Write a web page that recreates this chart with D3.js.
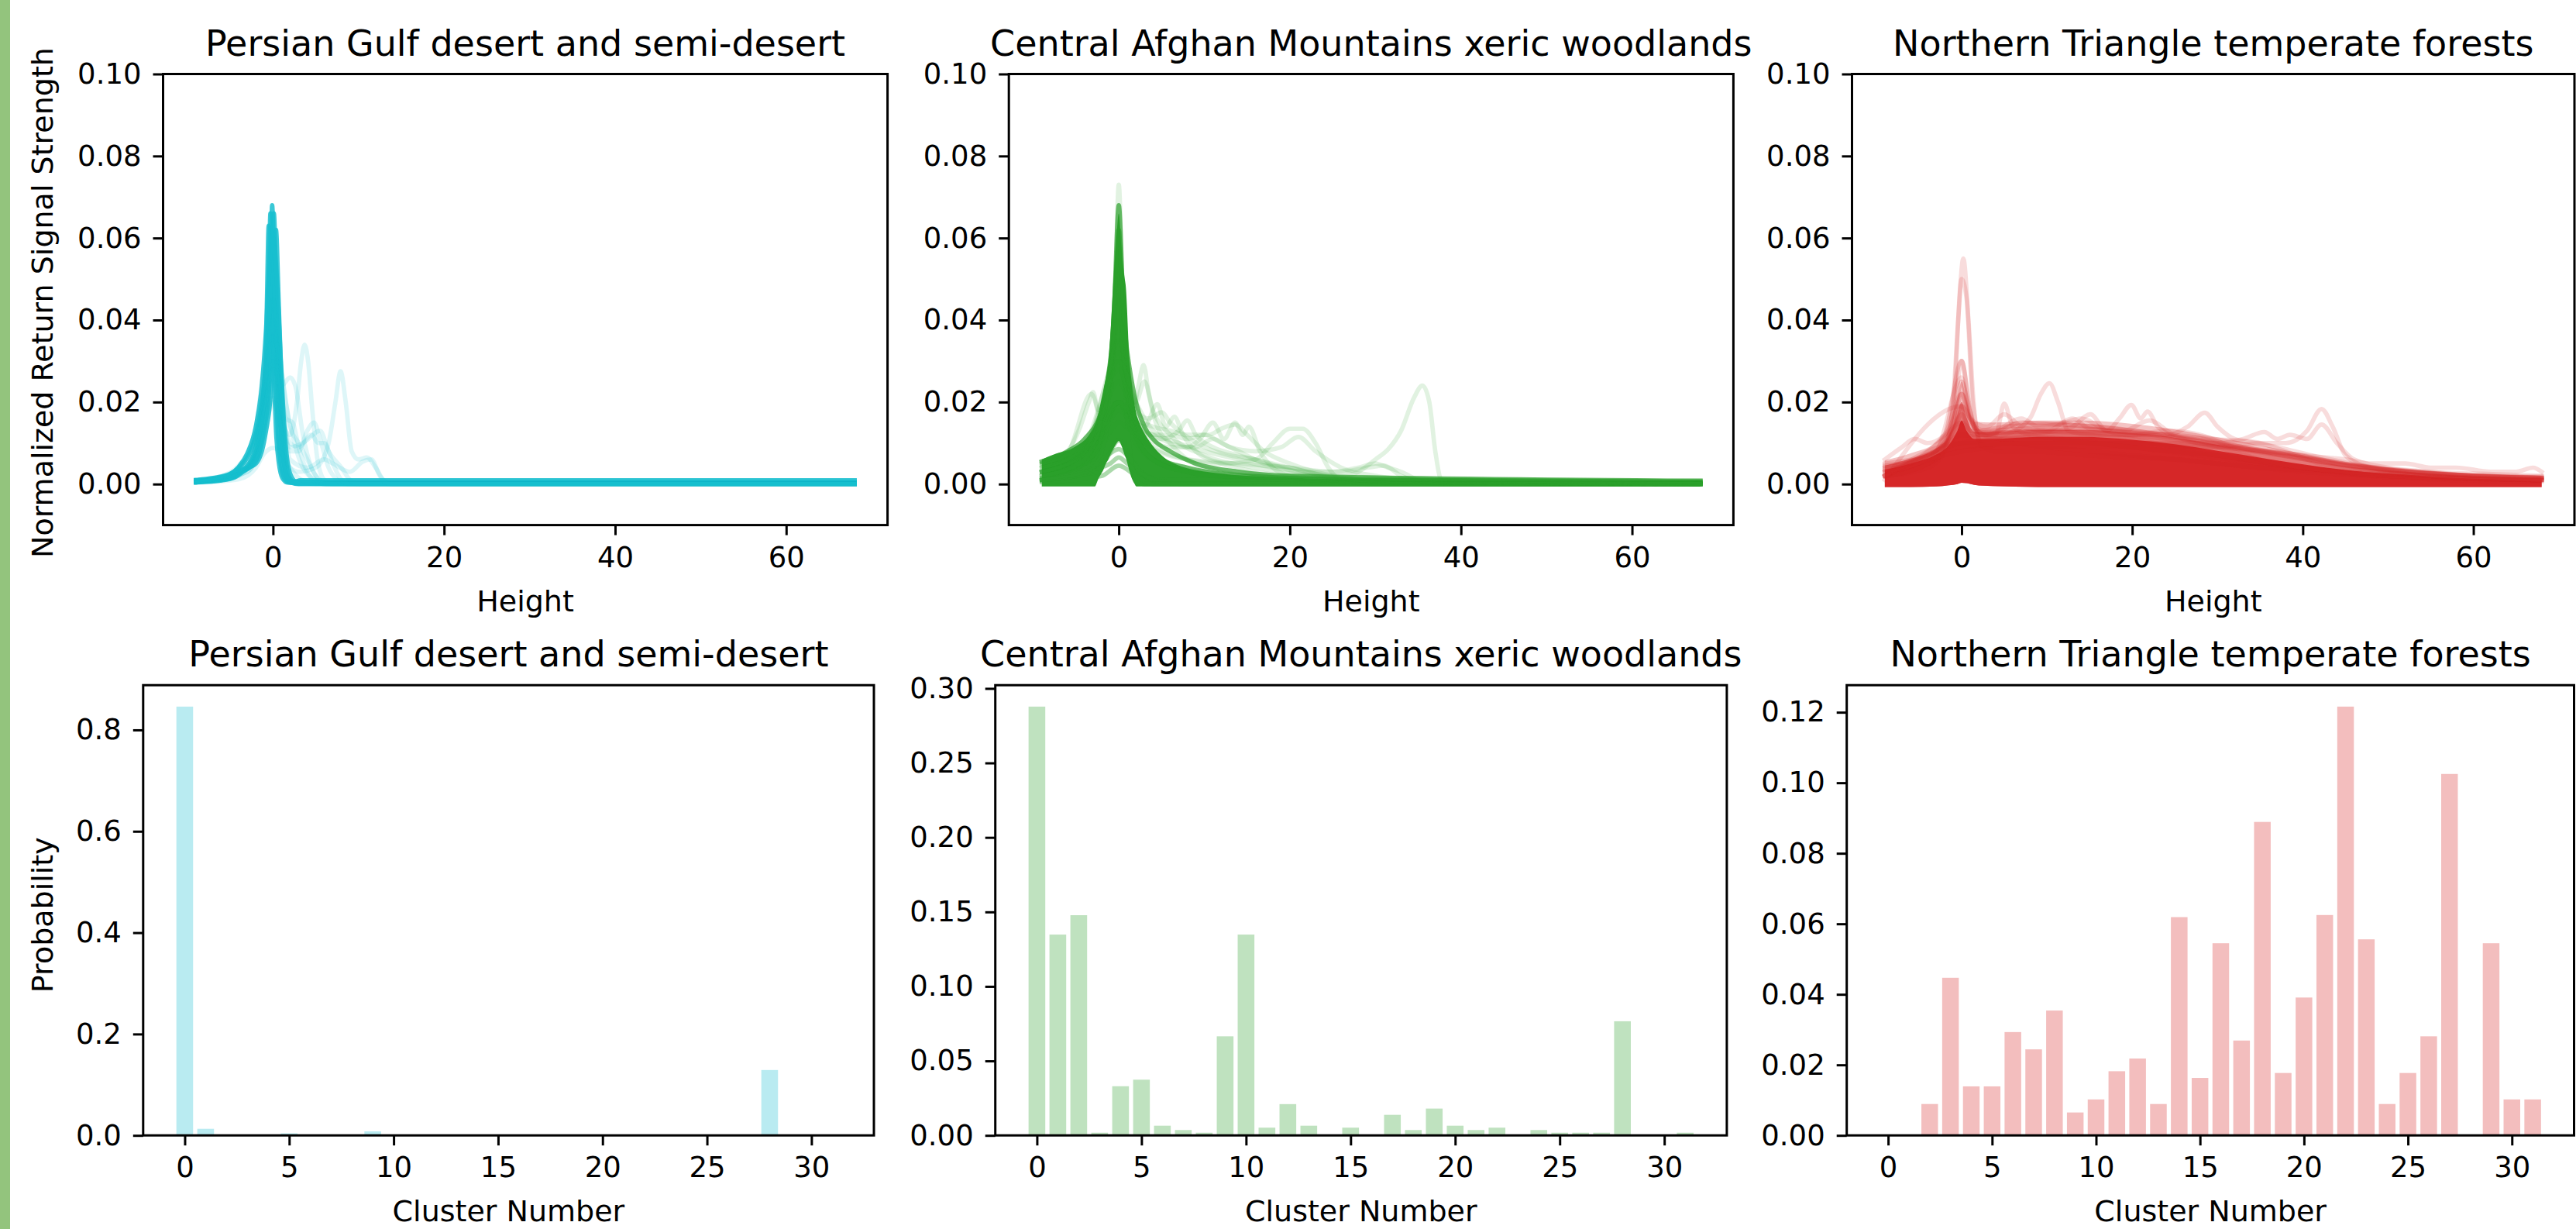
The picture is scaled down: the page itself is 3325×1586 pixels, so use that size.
<!DOCTYPE html>
<html><head><meta charset="utf-8">
<script src="https://cdn.jsdelivr.net/npm/d3@7"></script>
<style>
html,body{margin:0;padding:0;background:#fff;}
svg{display:block;}
</style></head><body>
<svg id="chart" width="3325" height="1586"></svg>
<script>
// ---------------- DATA ----------------
const regions = ["Persian Gulf desert and semi-desert","Central Afghan Mountains xeric woodlands","Northern Triangle temperate forests"];
const clusters = [0,1,2,3,4,5,6,7,8,9,10,11,12,13,14,15,16,17,18,19,20,21,22,23,24,25,26,27,28,29,30,31];
const heightTicks = [0,20,40,60];
const signalTicks = [0,0.02,0.04,0.06,0.08,0.10];
const clusterTicks = [0,5,10,15,20,25,30];
const probTicksPersian = [0,0.2,0.4,0.6,0.8];
const probTicksAfghan = [0,0.05,0.10,0.15,0.20,0.25,0.30];
const probTicksTriangle = [0,0.02,0.04,0.06,0.08,0.10,0.12];

const probPersian = [0.846,0.013,0,0,0,0.004,0,0,0,0.008,0,0,0,0,0,0,0,0,0,0,0,0,0,0,0,0,0,0,0.129,0,0,0];
const probAfghan = [0.2878,0.1348,0.1478,0.0018,0.033,0.0374,0.0065,0.0036,0.0018,0.0665,0.1348,0.0052,0.021,0.0065,0,0.0052,0,0.0138,0.0036,0.018,0.0065,0.0036,0.0052,0,0.0036,0.0018,0.0018,0.0018,0.0766,0,0,0.0018];
const probTriangle = [0,0,0.0089,0.0447,0.0139,0.0139,0.0293,0.0244,0.0354,0.0065,0.0102,0.0182,0.0218,0.0089,0.0619,0.0163,0.0545,0.0269,0.0889,0.0177,0.0391,0.0625,0.1216,0.0556,0.0089,0.0177,0.0281,0.1025,0,0.0545,0.0102,0.0102];

// waveforms: [height, normalized signal] pairs
const persianCore = [
 [[-9,0.0007],[-7,0.001],[-5,0.0018],[-4,0.003],[-2.8,0.005],[-1.8,0.0114],[-0.85,0.03],[-0.7,0.045],[-0.5,0.063],[-0.2,0.045],[0.05,0.03],[0.4,0.0114],[0.7,0.005],[1.1,0.0015],[1.7,0.0004],[3,0.0003],[68,0.0003]],
 [[-9,0.0005],[-7,0.0008],[-5,0.0015],[-4,0.0026],[-2.6,0.005],[-1.6,0.0114],[-0.65,0.03],[-0.5,0.045],[-0.3,0.066],[0,0.045],[0.25,0.03],[0.6,0.0114],[0.9,0.005],[1.3,0.0015],[1.9,0.0004],[3,0.0002],[68,0.0002]],
 [[-9,0.0004],[-6,0.0009],[-4.5,0.0016],[-3.5,0.003],[-2.4,0.005],[-1.4,0.0114],[-0.45,0.03],[-0.3,0.045],[-0.1,0.068],[0.2,0.045],[0.45,0.03],[0.8,0.0114],[1.1,0.005],[1.5,0.0015],[2.1,0.0004],[3,0],[68,0]],
 [[-9,0.0006],[-6,0.001],[-4.5,0.0018],[-3.5,0.0032],[-2.2,0.005],[-1.2,0.0114],[-0.25,0.03],[-0.1,0.045],[0.1,0.066],[0.4,0.045],[0.65,0.03],[1.0,0.0114],[1.3,0.005],[1.7,0.0015],[2.3,0.0004],[3,0.0001],[68,0.0001]],
 [[-9,0.0008],[-6,0.0012],[-4.5,0.002],[-3.5,0.0035],[-2,0.005],[-0.95,0.0114],[0,0.03],[0.15,0.045],[0.35,0.062],[0.65,0.045],[0.9,0.03],[1.25,0.0114],[1.55,0.005],[1.95,0.0015],[2.5,0.0005],[3.2,0.0009],[68,0.0009]],
 [[-9,0.001],[-7,0.0015],[-5,0.0025],[-4,0.004],[-3,0.0065],[-2,0.012],[-1,0.025],[-0.5,0.04],[0,0.058],[0.4,0.04],[0.75,0.022],[1.1,0.009],[1.5,0.003],[2,0.0008],[3,0.0006],[68,0.0006]],
 [[-9,0.0009],[-7,0.0013],[-5,0.0024],[-4,0.0042],[-3,0.0075],[-2,0.014],[-1.3,0.024],[-0.8,0.038],[-0.4,0.054],[0,0.06],[0.4,0.052],[0.8,0.035],[1.2,0.018],[1.6,0.007],[2.1,0.002],[2.8,0.0005],[68,0.0005]]
];
const persianFaint = [
 [[-9,0.0005],[-4,0.002],[-2,0.008],[-1,0.015],[0,0.021],[1,0.015],[2,0.012],[2.8,0.02],[3.3,0.03],[3.7,0.034],[4.1,0.03],[4.6,0.018],[5.2,0.006],[6,0.001],[7,0],[68,0]],
 [[-9,0.0005],[-3,0.003],[-1,0.013],[0,0.025],[1,0.013],[2,0.004],[3,0.003],[5,0.004],[6.5,0.01],[7.3,0.02],[7.9,0.0275],[8.5,0.02],[9.2,0.008],[10,0.006],[11,0.0065],[12,0.004],[13,0.0008],[14,0],[68,0]],
 [[-9,0.0003],[-4,0.0012],[-2,0.004],[-1,0.0075],[0,0.0088],[1,0.0075],[2,0.004],[3,0.0015],[4,0.0004],[5,0],[68,0]],
 [[-9,0.0006],[-4,0.003],[-2,0.01],[-1,0.02],[0,0.03],[1,0.024],[2,0.026],[2.6,0.024],[3.5,0.012],[4.5,0.004],[5.5,0.001],[6.5,0],[68,0]],
 [[-9,0.0004],[-3,0.004],[-1,0.02],[0,0.035],[1,0.02],[2,0.008],[3,0.008],[4,0.013],[4.8,0.015],[5.5,0.011],[6.5,0.004],[7.5,0.001],[8.5,0],[68,0]],
 [[-9,0.0004],[-3,0.0045],[-1,0.022],[0,0.031],[1,0.018],[2,0.01],[3,0.009],[4.5,0.012],[5.3,0.01],[6,0.01],[7,0.005],[8,0.001],[9,0],[68,0]],
 [[-9,0.0008],[-6,0.0018],[-4,0.004],[-2,0.014],[-1,0.03],[0,0.045],[1,0.028],[2,0.014],[3,0.01],[4,0.006],[5,0.002],[6,0],[68,0]],
 [[-9,0.0005],[-3,0.003],[-1,0.012],[0,0.02],[1,0.014],[2,0.009],[3.5,0.01],[5.5,0.013],[6.5,0.008],[8,0.004],[9,0.001],[10,0],[68,0]],
 [[-9,0.0007],[-6,0.0015],[-4,0.003],[-2,0.009],[-1,0.018],[0,0.028],[0.8,0.024],[1.5,0.016],[2.3,0.015],[3,0.009],[4,0.003],[5,0.0005],[6,0],[68,0]],
 [[-9,0.0004],[-3,0.005],[-1,0.025],[0,0.04],[1,0.022],[2,0.006],[4,0.004],[6,0.006],[7,0.005],[9,0.003],[10.5,0.0055],[11.5,0.006],[12.5,0.002],[13.5,0],[68,0]],
 [[-9,0.0009],[-6,0.002],[-4,0.0045],[-2.5,0.01],[-1,0.024],[0,0.036],[0.8,0.03],[1.5,0.02],[2.5,0.01],[3.5,0.004],[5,0.001],[6,0],[68,0]]
];

const afghanEnvH =     [-9,     -7.6,   -5.2,   -3.4,   -2.8,   -2.4,  -2.2,  -1.8,  -1.5,  -1.23, -0.8,  -0.66, -0.3,  0,     0.3,   0.7,   0.8,   1.27,  1.5,   1.8,   2.06,  2.4,   3.5,   4.9,   6.9,   11.4,  18.6,  25,    35,    50,    68];
const afghanEnvUpper = [0.006,  0.0072, 0.009,  0.0122, 0.0145, 0.0171,0.019, 0.023, 0.026, 0.0297,0.043, 0.0486,0.059, 0.066, 0.058, 0.05,  0.0486,0.0297,0.025, 0.02,  0.0171,0.015, 0.0107,0.0072,0.0046,0.0027,0.0017,0.0012,0.001, 0.0009,0.0009];
const afghanEnvLower = [-0.0006,-0.0006,-0.0006,-0.0006,-0.0006,0.0012,0.002, 0.0035,0.005, 0.006, 0.008, 0.0085,0.0098,0.0105,0.0095,0.007, 0.0065,0.003, 0.0015,0.0002,-0.0006,-0.0006,-0.0006,-0.0006,-0.0006,-0.0006,-0.0006,-0.0006,-0.0006,-0.0006,-0.0006];
const afghanCore = [
 [[-9,0.003],[-5,0.006],[-3,0.01],[-2,0.015],[-1,0.027],[-0.5,0.045],[0,0.068],[0.5,0.045],[1,0.028],[2,0.015],[3,0.01],[5,0.006],[8,0.004],[12,0.0025],[20,0.0015],[30,0.001],[68,0.0006]],
 [[-9,0.001],[-5,0.002],[-3,0.004],[-2,0.008],[-1,0.02],[-0.5,0.04],[0,0.062],[0.5,0.035],[1,0.015],[1.5,0.005],[2.2,0.001],[3,0],[68,0]],
 [[-9,0.0055],[-6,0.008],[-4,0.011],[-2,0.018],[-1,0.03],[0,0.05],[1,0.032],[2,0.02],[3,0.014],[4,0.011],[6,0.008],[9,0.005],[14,0.003],[20,0.002],[68,0.0008]]
];
const afghanInner = [
 [[-9,0.001],[-3,0.003],[-1.5,0.006],[0,0.0107],[1.5,0.006],[3,0.002],[5,0.0005],[8,0],[68,0]],
 [[-9,0.0015],[-3,0.0035],[-1,0.005],[0,0.0065],[1,0.005],[3,0.002],[6,0.0005],[68,0]],
 [[-9,0.0005],[-2,0.002],[0,0.0045],[2,0.002],[4,0],[68,0]],
 [[-9,0.001],[-3,0.004],[-1,0.0075],[0,0.0085],[1,0.007],[2.5,0.003],[5,0.001],[68,0.0002]]
];
const afghanFaint = [
 [[-9,0.003],[-5,0.006],[-2,0.012],[0,0.02],[2,0.01],[5,0.005],[10,0.003],[20,0.002],[26,0.002],[28,0.003],[30,0.006],[31.5,0.0085],[33,0.013],[34.5,0.021],[35.5,0.024],[36.3,0.02],[37,0.008],[37.7,0.001],[39,0],[68,0]],
 [[-9,0.002],[-4,0.005],[-2,0.012],[-1,0.025],[-0.4,0.05],[0,0.073],[0.4,0.05],[1,0.025],[2,0.012],[4,0.006],[8,0.003],[15,0.0015],[68,0.0008]],
 [[-9,0.004],[-4,0.008],[-2,0.013],[0,0.02],[1.5,0.016],[2.3,0.024],[2.9,0.029],[3.5,0.022],[4.5,0.014],[6,0.01],[8,0.006],[12,0.003],[20,0.001],[68,0.0005]],
 [[-9,0.005],[-6,0.008],[-4.5,0.014],[-3.5,0.02],[-3,0.0224],[-2.4,0.018],[-1.5,0.02],[-0.5,0.035],[0,0.045],[0.6,0.03],[1.5,0.015],[3,0.008],[6,0.004],[12,0.002],[68,0.0005]],
 [[-9,0.002],[-3,0.006],[0,0.015],[2,0.012],[5,0.008],[8,0.006],[12,0.005],[16,0.006],[18,0.01],[20,0.0135],[21.5,0.0135],[23,0.01],[24.5,0.004],[26,0.001],[30,0],[68,0]],
 [[-9,0.003],[-3,0.008],[0,0.02],[2,0.014],[4,0.012],[6,0.01],[8,0.009],[9.5,0.011],[11,0.015],[12.3,0.011],[13.6,0.015],[14.5,0.012],[15.2,0.014],[16.5,0.008],[18,0.004],[20,0.002],[25,0.0005],[68,0]],
 [[-9,0.004],[-3,0.01],[0,0.03],[1.5,0.016],[3,0.014],[4.5,0.0195],[5.5,0.014],[6.5,0.0164],[7.5,0.012],[9,0.008],[12,0.005],[16,0.003],[22,0.0015],[30,0.0005],[68,0]],
 [[-9,0.005],[-3,0.012],[0,0.025],[2,0.016],[4,0.012],[6,0.012],[8,0.011],[10,0.012],[12,0.01],[14,0.008],[17,0.005],[20,0.004],[24,0.002],[28,0.001],[32,0.0005],[68,0]],
 [[-9,0.002],[-3,0.007],[0,0.018],[3,0.01],[8,0.006],[14,0.005],[20,0.004],[25,0.003],[28,0.004],[30,0.005],[31.5,0.004],[33,0.003],[35,0.001],[38,0],[68,0]],
 [[-9,0.003],[-3,0.009],[0,0.035],[2,0.015],[5,0.011],[7,0.013],[8,0.0155],[9,0.012],[11,0.009],[14,0.007],[18,0.005],[22,0.003],[26,0.0015],[68,0.0003]],
 [[-9,0.0045],[-6,0.0075],[-3.2,0.022],[-2,0.016],[0,0.04],[2,0.02],[3,0.025],[4,0.018],[6,0.012],[10,0.007],[16,0.004],[24,0.002],[68,0.0004]],
 [[-9,0.004],[-4,0.009],[0,0.028],[2,0.016],[4,0.014],[6,0.013],[8,0.012],[10.5,0.012],[12,0.0135],[13.6,0.0145],[15,0.012],[17,0.008],[20,0.005],[25,0.002],[30,0.0008],[68,0.0002]],
 [[-9,0.003],[-4,0.008],[0,0.032],[2,0.018],[3.5,0.016],[5,0.0175],[6,0.015],[8,0.0115],[10,0.009],[13,0.007],[16,0.006],[19,0.004],[23,0.002],[28,0.001],[68,0]],
 [[-9,0.002],[-4,0.006],[0,0.02],[3,0.012],[6,0.009],[9,0.009],[11,0.011],[13,0.009],[16,0.008],[19,0.009],[21,0.0115],[23,0.008],[26,0.004],[30,0.002],[35,0.001],[68,0]],
 [[-9,0.005],[-4,0.01],[0,0.03],[2,0.02],[4,0.013],[7,0.01],[10,0.008],[14,0.006],[18,0.004],[22,0.003],[26,0.003],[29,0.004],[31,0.0045],[33,0.002],[36,0.0005],[68,0]]
];

const triangleEnvH =      [-9,     -6,     -3,     -1.5,   -0.5,   0,      0.6,    1.5,    3.6,    9,      14,     20,     25,     30,     36,     41,     46,     52,     57,     62,     68];
const triangleEnvUpper =  [0.0035, 0.005,  0.0072, 0.0095, 0.013,  0.0155, 0.013,  0.011,  0.011,  0.0115, 0.0115, 0.0108, 0.0097, 0.0081, 0.0061, 0.0045, 0.0032, 0.0023, 0.0016, 0.0012, 0.0009];
const triangleDenseUpper =[0.0045, 0.0062, 0.0086, 0.0118, 0.017,  0.02,   0.016,  0.0128, 0.0127, 0.0132, 0.0132, 0.0125, 0.0113, 0.0096, 0.0074, 0.0056, 0.0041, 0.003,  0.0022, 0.0017, 0.0014];
const triangleHaloUpper = [0.0058, 0.0075, 0.0102, 0.0145, 0.021,  0.025,  0.02,   0.0152, 0.015,  0.0155, 0.0155, 0.0147, 0.0133, 0.0114, 0.009,  0.007,  0.0052, 0.0038, 0.0029, 0.0024, 0.002];
const triangleEnvLower =  [-0.0007,-0.0007,-0.0006,-0.0003,0,      0.0003, 0.0002, -0.0002,-0.0005,-0.0007,-0.0007,-0.0007,-0.0007,-0.0007,-0.0007,-0.0007,-0.0007,-0.0007,-0.0007,-0.0007,-0.0007];
const triangleMid = [
 [[-9,0.004],[-5,0.006],[-2,0.01],[-1,0.015],[0,0.025],[0.7,0.02],[1.5,0.014],[3,0.013],[8,0.0135],[14,0.0135],[20,0.0125],[26,0.011],[32,0.009],[40,0.0065],[50,0.0035],[60,0.002],[68,0.0015]],
 [[-9,0.005],[-3,0.008],[-1,0.013],[0,0.019],[1,0.016],[2,0.013],[5,0.014],[10,0.0145],[16,0.014],[22,0.0125],[28,0.0105],[35,0.008],[42,0.0055],[50,0.0035],[68,0.0015]],
 [[-9,0.0045],[-4,0.007],[-1,0.014],[0,0.022],[1,0.015],[3,0.012],[7,0.015],[12,0.0145],[18,0.0135],[24,0.012],[30,0.01],[36,0.008],[44,0.005],[52,0.003],[68,0.0016]],
 [[-9,0.003],[-2,0.012],[0,0.03],[1,0.018],[2,0.012],[4,0.0125],[9,0.013],[15,0.013],[21,0.0125],[27,0.0115],[33,0.009],[40,0.0065],[48,0.004],[58,0.0022],[68,0.0018]],
 [[-9,0.0035],[-4,0.0065],[-1,0.012],[0,0.017],[1,0.013],[4,0.0125],[8,0.0128],[13,0.0126],[19,0.012],[25,0.0108],[31,0.009],[38,0.0068],[45,0.0045],[55,0.0025],[68,0.0014]]
];
const triangleFaint = [
 [[-9,0.002],[-4,0.004],[-2,0.008],[-1,0.02],[-0.4,0.04],[0.2,0.055],[0.8,0.04],[1.4,0.02],[2.2,0.01],[4,0.008],[8,0.008],[15,0.007],[25,0.006],[35,0.004],[45,0.003],[55,0.0015],[68,0.001]],
 [[-9,0.003],[-3,0.006],[-1,0.018],[0,0.05],[0.6,0.045],[1.3,0.02],[2.5,0.009],[5,0.01],[10,0.009],[20,0.007],[30,0.005],[40,0.003],[50,0.002],[68,0.001]],
 [[-9,0.002],[-3,0.006],[-1,0.015],[0,0.03],[1,0.017],[2,0.012],[4,0.012],[5,0.0196],[6,0.014],[8,0.012],[12,0.011],[16,0.01],[20,0.009],[28,0.007],[35,0.005],[45,0.003],[55,0.002],[68,0.001]],
 [[-9,0.003],[-4,0.006],[0,0.015],[2,0.011],[5,0.012],[8,0.016],[9.3,0.022],[10.3,0.0246],[11.3,0.02],[12.5,0.013],[15,0.012],[20,0.011],[25,0.009],[30,0.007],[40,0.004],[50,0.002],[68,0.001]],
 [[-9,0.002],[-4,0.005],[0,0.012],[3,0.011],[7,0.012],[11,0.013],[13,0.014],[15.1,0.017],[17,0.013],[18.5,0.016],[19.9,0.0193],[21,0.016],[21.8,0.0177],[23,0.014],[26,0.011],[30,0.009],[35,0.006],[40,0.004],[48,0.002],[58,0.001],[68,0.0006]],
 [[-9,0.002],[0,0.01],[5,0.011],[10,0.012],[15,0.012],[20,0.012],[24,0.012],[26.5,0.014],[28.5,0.0174],[30,0.014],[32,0.011],[35,0.01],[38,0.008],[42,0.005],[48,0.003],[55,0.002],[68,0.001]],
 [[-9,0.002],[0,0.008],[5,0.009],[10,0.009],[15,0.009],[20,0.009],[25,0.009],[30,0.009],[35,0.01],[38,0.01],[40.5,0.013],[42.2,0.0183],[43.5,0.014],[45,0.007],[48,0.004],[55,0.002],[68,0.001]],
 [[-9,0.002],[0,0.009],[8,0.01],[16,0.01],[24,0.01],[30,0.01],[33,0.011],[35.5,0.0127],[37,0.011],[38.5,0.012],[40.5,0.011],[42.2,0.0145],[44,0.01],[46,0.006],[50,0.004],[55,0.003],[60,0.002],[68,0.0015]],
 [[-9,0.006],[-7,0.009],[-5.5,0.011],[-4,0.01],[-2,0.012],[0,0.022],[1,0.016],[2.5,0.012],[5,0.011],[10,0.011],[15,0.01],[20,0.009],[25,0.008],[30,0.007],[40,0.004],[50,0.002],[68,0.001]],
 [[-9,0.002],[0,0.01],[10,0.01],[20,0.01],[30,0.009],[40,0.007],[45,0.006],[48,0.005],[52,0.005],[55,0.004],[58,0.004],[62,0.003],[65,0.003],[67,0.004],[68,0.003]],
 [[-9,0.001],[0,0.019],[1,0.012],[3,0.012],[7,0.016],[9,0.014],[12,0.015],[14,0.016],[17,0.013],[20,0.012],[24,0.013],[28,0.012],[32,0.009],[36,0.008],[40,0.007],[44,0.005],[50,0.003],[60,0.0015],[68,0.001]],
 [[-9,0.004],[-3,0.008],[0,0.026],[1,0.016],[3,0.014],[5,0.017],[7,0.014],[10,0.013],[13,0.016],[15,0.0135],[19,0.013],[22,0.0155],[25,0.012],[29,0.011],[33,0.0105],[37,0.009],[41,0.007],[47,0.0045],[54,0.003],[61,0.0025],[68,0.002]]
];

// ---------------- LAYOUT / STYLE ----------------
const W = 3325, H = 1586;
const colors = ["#17becf", "#2ca02c", "#d62728"];
const FONT = "DejaVu Sans";
const topBoxes = [{l:210.5,r:1145.6},{l:1302.2,r:2237.4},{l:2390.5,r:3323}];
const topRow = {t:95.5, b:677.6};
const botBoxes = [{l:184.8,r:1128},{l:1284.7,r:2228.9},{l:2383.7,r:3322.5}];
const botRow = {t:884.2, b:1465.2};
const LW = 5.7;

const svg = d3.select("#chart");
svg.append("rect").attr("width", W).attr("height", H).attr("fill", "#fff");
svg.append("rect").attr("x", 0).attr("y", 0).attr("width", 13).attr("height", H).attr("fill", "#93c47d");

function styleAxis(g) {
  g.attr("font-size", null).attr("font-family", null);
  g.select(".domain").remove();
  g.selectAll(".tick line").attr("stroke", "#000").attr("stroke-width", 3);
  g.selectAll(".tick text").attr("font-size", 37).attr("font-family", FONT).attr("fill", "#000");
}

const waveSets = [
  {core: persianCore, faint: persianFaint, mid: [], env: null},
  {core: afghanCore, faint: afghanFaint, mid: afghanInner, env: {h: afghanEnvH, up: afghanEnvUpper, lo: afghanEnvLower}},
  {core: [], faint: triangleFaint, mid: triangleMid, env: {h: triangleEnvH, up: triangleEnvUpper, lo: triangleEnvLower, dense: triangleDenseUpper, halo: triangleHaloUpper}}
];
const probSets = [probPersian, probAfghan, probTriangle];
const probTicks = [probTicksPersian, probTicksAfghan, probTicksTriangle];
const probFormats = [".1f", ".2f", ".2f"];

// x domain for height, from data extent with 5% margins
const allH = [];
waveSets.forEach(s => [s.core, s.faint, s.mid].forEach(arr => arr.forEach(w => w.forEach(p => allH.push(p[0])))));
const hExt = d3.extent(allH);
const hPad = (hExt[1] - hExt[0]) * 0.05;
const hDomain = [hExt[0] - hPad, hExt[1] + hPad];

// ---------------- TOP ROW (waveforms) ----------------
waveSets.forEach((set, i) => {
  const box = topBoxes[i];
  const w = box.r - box.l, h = topRow.b - topRow.t;
  const g = svg.append("g").attr("transform", `translate(${box.l},${topRow.t})`);
  const x = d3.scaleLinear().domain(hDomain).range([0, w]);
  const y = d3.scaleLinear().domain([-0.01, 0.10]).range([h, 0]);
  const clipId = "clipT" + i;
  g.append("clipPath").attr("id", clipId).append("rect").attr("width", w).attr("height", h);
  const plot = g.append("g").attr("clip-path", `url(#${clipId})`);
  const line = d3.line().x(d => x(d[0])).y(d => y(d[1])).curve(d3.curveMonotoneX);

  if (set.env) {
    const e = set.env;
    const envData = e.h.map((hv, k) => ({h: hv, up: e.up[k], lo: e.lo[k],
      dense: e.dense ? e.dense[k] : null, halo: e.halo ? e.halo[k] : null}));
    const layers = [];
    if (e.halo) layers.push({key: "halo", op: 0.28});
    if (e.dense) layers.push({key: "dense", op: 0.5});
    layers.push({key: "up", op: 1});
    layers.forEach(L => {
      const ar = d3.area().x(d => x(d.h)).y0(d => y(d.lo)).y1(d => y(d[L.key])).curve(d3.curveMonotoneX);
      plot.append("path").datum(envData).attr("d", ar).attr("fill", colors[i]).attr("fill-opacity", L.op);
    });
  }
  const midOp = i === 1 ? 0.4 : 0.22;
  plot.selectAll("path.mid").data(set.mid).join("path").attr("class", "mid")
    .attr("d", line).attr("fill", "none").attr("stroke", colors[i]).attr("stroke-width", LW)
    .attr("stroke-opacity", midOp).attr("stroke-linejoin", "round").attr("stroke-linecap", "square");
  plot.selectAll("path.core").data(set.core).join("path").attr("class", "core")
    .attr("d", line).attr("fill", "none").attr("stroke", colors[i]).attr("stroke-width", LW)
    .attr("stroke-opacity", i === 0 ? 0.85 : 0.7).attr("stroke-linejoin", "round").attr("stroke-linecap", "square");
  plot.selectAll("path.faint").data(set.faint).join("path").attr("class", "faint")
    .attr("d", line).attr("fill", "none").attr("stroke", colors[i]).attr("stroke-width", LW)
    .attr("stroke-opacity", i === 2 ? 0.16 : 0.14).attr("stroke-linejoin", "round").attr("stroke-linecap", "square");

  const xa = g.append("g").attr("transform", `translate(0,${h})`)
    .call(d3.axisBottom(x).tickValues(heightTicks).tickFormat(d3.format("d")).tickSize(13).tickSizeOuter(0).tickPadding(15));
  styleAxis(xa);
  const ya = g.append("g")
    .call(d3.axisLeft(y).tickValues(signalTicks).tickFormat(d3.format(".2f")).tickSize(13).tickSizeOuter(0).tickPadding(15));
  styleAxis(ya);
  g.append("rect").attr("width", w).attr("height", h).attr("fill", "none").attr("stroke", "#000").attr("stroke-width", 3);

  g.append("text").attr("x", w / 2).attr("y", -23.5).attr("text-anchor", "middle")
    .attr("font-family", FONT).attr("font-size", 46).attr("fill", "#000").text(regions[i]);
  g.append("text").attr("x", w / 2).attr("y", 789 - topRow.t).attr("text-anchor", "middle")
    .attr("font-family", FONT).attr("font-size", 38).attr("fill", "#000").text("Height");
});
svg.append("text").attr("transform", `translate(68,${(topRow.t + topRow.b) / 2 + 4}) rotate(-90)`)
  .attr("text-anchor", "middle").attr("font-family", FONT).attr("font-size", 38).attr("fill", "#000")
  .text("Normalized Return Signal Strength");

// ---------------- BOTTOM ROW (cluster bars) ----------------
const barHalf = 0.4;
const cExt = [d3.min(clusters) - barHalf, d3.max(clusters) + barHalf];
const cPad = (cExt[1] - cExt[0]) * 0.05;
const cDomain = [cExt[0] - cPad, cExt[1] + cPad];

probSets.forEach((vals, i) => {
  const box = botBoxes[i];
  const w = box.r - box.l, h = botRow.b - botRow.t;
  const g = svg.append("g").attr("transform", `translate(${box.l},${botRow.t})`);
  const x = d3.scaleLinear().domain(cDomain).range([0, w]);
  const y = d3.scaleLinear().domain([0, d3.max(vals) * 1.05]).range([h, 0]);
  const data = clusters.map((c, k) => ({c: c, v: vals[k]}));
  g.selectAll("rect.bar").data(data).join("rect").attr("class", "bar")
    .attr("x", d => x(d.c - barHalf)).attr("width", d => x(d.c + barHalf) - x(d.c - barHalf))
    .attr("y", d => y(d.v)).attr("height", d => y(0) - y(d.v))
    .attr("fill", colors[i]).attr("fill-opacity", 0.3);

  const xa = g.append("g").attr("transform", `translate(0,${h})`)
    .call(d3.axisBottom(x).tickValues(clusterTicks).tickFormat(d3.format("d")).tickSize(13).tickSizeOuter(0).tickPadding(15));
  styleAxis(xa);
  const ya = g.append("g")
    .call(d3.axisLeft(y).tickValues(probTicks[i]).tickFormat(d3.format(probFormats[i])).tickSize(13).tickSizeOuter(0).tickPadding(15));
  styleAxis(ya);
  g.append("rect").attr("width", w).attr("height", h).attr("fill", "none").attr("stroke", "#000").attr("stroke-width", 3);

  g.append("text").attr("x", w / 2).attr("y", -24).attr("text-anchor", "middle")
    .attr("font-family", FONT).attr("font-size", 46).attr("fill", "#000").text(regions[i]);
  g.append("text").attr("x", w / 2).attr("y", 1576 - botRow.t).attr("text-anchor", "middle")
    .attr("font-family", FONT).attr("font-size", 38).attr("fill", "#000").text("Cluster Number");
});
svg.append("text").attr("transform", `translate(68,${(botRow.t + botRow.b) / 2 + 6}) rotate(-90)`)
  .attr("text-anchor", "middle").attr("font-family", FONT).attr("font-size", 38).attr("fill", "#000")
  .text("Probability");
</script></body></html>
